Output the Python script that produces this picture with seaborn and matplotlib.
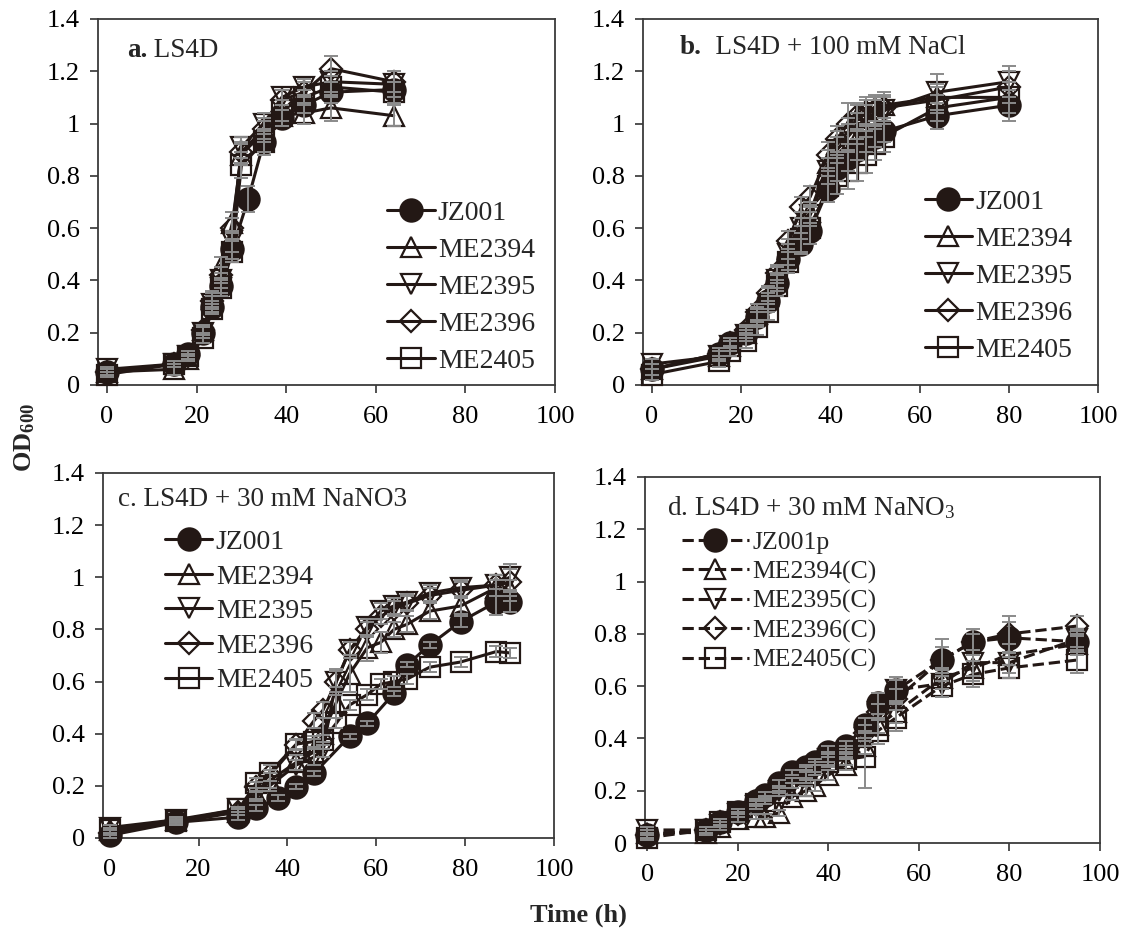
import numpy as np
import pandas as pd
import matplotlib
matplotlib.use("Agg")
import matplotlib.pyplot as plt
import seaborn as sns

nan = np.nan

STRAINS = ["JZ001", "ME2394", "ME2395", "ME2396", "ME2405"]
STRAINS_D = ["JZ001p", "ME2394(C)", "ME2395(C)", "ME2396(C)", "ME2405(C)"]

# panel a: LS4D
T_A = [0, 15, 18, 21.5, 23.5, 25.5, 28, 30, 31.5, 35, 39, 44, 50, 64]
A_JZ001 = [0.05, 0.08, 0.12, 0.20, 0.30, 0.38, 0.52, nan, 0.71, 0.93, 1.02, 1.07, 1.12, 1.13]
A_ME2394 = [0.05, 0.06, 0.10, 0.21, 0.33, 0.45, 0.62, 0.88, nan, 0.97, 1.03, 1.04, 1.06, 1.03]
A_ME2395 = [0.06, 0.08, 0.11, 0.20, 0.31, 0.40, 0.55, 0.91, nan, 1.00, 1.10, 1.14, 1.16, 1.15]
A_ME2396 = [0.05, 0.08, 0.11, 0.21, 0.32, 0.42, 0.60, 0.89, nan, 0.98, 1.09, 1.12, 1.21, 1.16]
A_ME2405 = [0.04, 0.08, 0.11, 0.18, 0.29, 0.37, 0.51, 0.84, nan, 0.93, 1.05, 1.10, 1.14, 1.12]
A_JZ001_E = [0.01, 0.01, 0.01, 0.02, 0.02, 0.03, 0.04, nan, 0.05, 0.04, 0.03, 0.03, 0.04, 0.03]
A_ME2394_E = [0.01, 0.02, 0.01, 0.02, 0.03, 0.04, 0.04, 0.04, nan, 0.04, 0.04, 0.04, 0.05, 0.04]
A_ME2395_E = [0.01, 0.01, 0.01, 0.02, 0.03, 0.03, 0.04, 0.04, nan, 0.04, 0.03, 0.03, 0.04, 0.05]
A_ME2396_E = [0.01, 0.01, 0.01, 0.02, 0.03, 0.03, 0.04, 0.04, nan, 0.04, 0.04, 0.04, 0.05, 0.04]
A_ME2405_E = [0.01, 0.01, 0.01, 0.02, 0.02, 0.03, 0.04, 0.05, nan, 0.05, 0.04, 0.03, 0.04, 0.04]

# panel b: LS4D + 100 mM NaCl
T_B = [0, 15, 17.5, 21, 23.5, 26, 28, 30.5, 33.5, 35.5, 39.5, 41.5, 44, 46, 48, 50, 52, 64, 80]
B_JZ001 = [0.06, 0.12, 0.16, 0.20, 0.26, 0.32, 0.39, 0.48, 0.54, 0.59, 0.75, 0.83, 0.87, 0.90, 0.93, 0.95, 0.97, 1.03, 1.07]
B_ME2394 = [0.06, 0.11, 0.15, 0.20, 0.27, 0.34, 0.42, 0.52, 0.62, 0.66, 0.85, 0.92, 0.97, 1.02, 1.05, 1.06, 1.07, 1.10, 1.10]
B_ME2395 = [0.08, 0.11, 0.15, 0.19, 0.25, 0.31, 0.40, 0.50, 0.60, 0.65, 0.82, 0.90, 0.95, 0.99, 1.02, 1.04, 1.05, 1.12, 1.16]
B_ME2396 = [0.06, 0.12, 0.16, 0.21, 0.28, 0.35, 0.43, 0.55, 0.68, 0.72, 0.88, 0.94, 1.00, 1.03, 1.04, 1.05, 1.06, 1.09, 1.14]
B_ME2405 = [0.04, 0.09, 0.13, 0.17, 0.22, 0.28, 0.38, 0.47, 0.56, 0.60, 0.76, 0.80, 0.82, 0.85, 0.88, 0.92, 0.95, 1.06, 1.10]
B_JZ001_E = [0.02, 0.02, 0.02, 0.02, 0.03, 0.03, 0.03, 0.04, 0.04, 0.05, 0.05, 0.05, 0.05, 0.04, 0.04, 0.04, 0.04, 0.05, 0.06]
B_ME2394_E = [0.02, 0.02, 0.02, 0.02, 0.03, 0.03, 0.03, 0.04, 0.04, 0.04, 0.05, 0.05, 0.05, 0.05, 0.05, 0.05, 0.05, 0.05, 0.06]
B_ME2395_E = [0.02, 0.02, 0.02, 0.02, 0.03, 0.03, 0.03, 0.04, 0.04, 0.04, 0.05, 0.05, 0.05, 0.05, 0.05, 0.05, 0.05, 0.07, 0.06]
B_ME2396_E = [0.02, 0.02, 0.02, 0.02, 0.03, 0.03, 0.03, 0.04, 0.04, 0.04, 0.05, 0.05, 0.08, 0.05, 0.05, 0.05, 0.05, 0.05, 0.06]
B_ME2405_E = [0.02, 0.02, 0.02, 0.03, 0.03, 0.03, 0.04, 0.04, 0.05, 0.06, 0.06, 0.07, 0.07, 0.07, 0.07, 0.06, 0.06, 0.05, 0.06]

# panel c: LS4D + 30 mM NaNO3
T_C = [0, 15, 29, 33, 36, 38, 42, 46, 48, 51, 54, 58, 61, 64, 67, 72, 79, 87, 90]
C_JZ001 = [0.01, 0.06, 0.08, 0.115, nan, 0.153, 0.197, 0.248, nan, nan, 0.39, 0.44, nan, 0.555, 0.665, 0.74, 0.83, 0.905, 0.905]
C_ME2394 = [0.03, 0.07, 0.10, 0.17, 0.22, nan, 0.29, 0.33, 0.40, 0.52, 0.63, 0.73, 0.75, 0.80, 0.82, 0.87, 0.89, 0.96, 0.95]
C_ME2395 = [0.04, 0.07, 0.11, 0.16, 0.20, nan, 0.28, 0.31, 0.34, 0.60, 0.72, 0.81, 0.87, 0.89, 0.905, 0.94, 0.96, 0.97, 1.00]
C_ME2396 = [0.02, 0.06, 0.10, 0.195, 0.24, nan, 0.357, 0.45, 0.49, 0.60, 0.72, 0.80, 0.85, 0.88, 0.90, 0.93, 0.95, 0.97, 0.98]
C_ME2405 = [0.03, 0.065, 0.11, 0.21, 0.25, nan, 0.36, 0.37, 0.375, 0.44, 0.51, 0.55, 0.59, 0.60, 0.61, 0.655, 0.675, 0.715, 0.71]
C_JZ001_E = [0.01, 0.01, 0.01, 0.01, nan, 0.01, 0.01, 0.01, nan, nan, 0.01, 0.01, nan, 0.01, 0.01, 0.01, 0.02, 0.05, 0.04]
C_ME2394_E = [0.01, 0.01, 0.01, 0.02, 0.03, nan, 0.03, 0.05, 0.06, 0.06, 0.07, 0.05, 0.04, 0.03, 0.03, 0.03, 0.03, 0.03, 0.04]
C_ME2395_E = [0.01, 0.01, 0.01, 0.02, 0.02, nan, 0.02, 0.03, 0.03, 0.05, 0.03, 0.03, 0.03, 0.03, 0.03, 0.03, 0.03, 0.04, 0.05]
C_ME2396_E = [0.01, 0.01, 0.01, 0.02, 0.02, nan, 0.02, 0.03, 0.03, 0.04, 0.03, 0.03, 0.03, 0.03, 0.03, 0.03, 0.03, 0.04, 0.05]
C_ME2405_E = [0.01, 0.01, 0.01, 0.02, 0.03, nan, 0.02, 0.02, 0.02, 0.02, 0.02, 0.02, 0.02, 0.02, 0.02, 0.02, 0.02, 0.02, 0.02]

# panel d: LS4D + 30 mM NaNO3, complemented strains
T_D = [0, 13, 16, 20, 24, 26, 29, 32, 35, 37, 40, 44, 48, 51, 55, 65, 72, 80, 95]
D_JZ001p = [0.03, 0.05, 0.08, 0.12, 0.16, 0.185, 0.23, 0.27, 0.29, 0.31, 0.35, 0.37, 0.45, 0.535, 0.585, 0.70, 0.77, 0.785, 0.77]
D_ME2394 = [0.04, 0.04, 0.06, 0.09, 0.10, 0.10, 0.115, 0.175, 0.20, 0.22, 0.26, 0.30, 0.37, 0.45, 0.50, 0.63, 0.67, 0.72, 0.76]
D_ME2395 = [0.05, 0.05, 0.07, 0.11, 0.14, 0.16, 0.20, 0.22, 0.25, 0.28, 0.32, 0.34, 0.40, 0.50, 0.585, 0.61, 0.69, 0.69, 0.78]
D_ME2396 = [0.03, 0.05, 0.08, 0.11, 0.15, 0.17, 0.21, 0.24, 0.27, 0.29, 0.33, 0.35, 0.42, 0.50, 0.55, 0.70, 0.77, 0.80, 0.83]
D_ME2405 = [0.02, 0.05, 0.08, 0.12, 0.15, 0.16, 0.19, 0.22, 0.26, 0.28, 0.31, 0.32, 0.33, 0.43, 0.48, 0.60, 0.645, 0.67, 0.70]
D_JZ001p_E = [0.01, 0.01, 0.01, 0.01, 0.01, 0.01, 0.01, 0.01, 0.01, 0.01, 0.02, 0.02, 0.03, 0.04, 0.05, 0.08, 0.03, 0.06, 0.04]
D_ME2394_E = [0.01, 0.01, 0.01, 0.01, 0.01, 0.01, 0.01, 0.01, 0.02, 0.02, 0.02, 0.02, 0.03, 0.03, 0.04, 0.04, 0.05, 0.04, 0.04]
D_ME2395_E = [0.01, 0.01, 0.01, 0.01, 0.01, 0.01, 0.01, 0.01, 0.02, 0.02, 0.02, 0.02, 0.03, 0.03, 0.04, 0.05, 0.05, 0.04, 0.04]
D_ME2396_E = [0.01, 0.01, 0.01, 0.01, 0.01, 0.01, 0.01, 0.01, 0.02, 0.02, 0.02, 0.02, 0.03, 0.03, 0.04, 0.05, 0.05, 0.07, 0.04]
D_ME2405_E = [0.01, 0.01, 0.01, 0.01, 0.01, 0.01, 0.01, 0.01, 0.02, 0.02, 0.02, 0.02, 0.12, 0.05, 0.05, 0.04, 0.05, 0.04, 0.05]

INK = "#231815"
ERR = "#8a8a8a"
MARKERS = ["o", "^", "v", "D", "s"]
SIZES = [16, 14, 14, 11, 14]
FACES = [INK, "none", "none", "none", "none"]

sns.set_theme(style="ticks")
plt.rcParams["font.family"] = ["Liberation Serif", "DejaVu Serif"]
plt.rcParams["mathtext.fontset"] = "custom"
plt.rcParams["mathtext.rm"] = "Liberation Serif"
plt.rcParams["mathtext.it"] = "Liberation Serif:italic"
plt.rcParams["mathtext.bf"] = "Liberation Serif:bold"


def draw_panel(ax, t, series, errs, labels, ls, xmin):
    # JZ001 last so the filled circles sit on top
    order = [1, 2, 3, 4, 0]
    for i in order:
        df = pd.DataFrame({"t": t, "od": series[i], "err": errs[i]}).dropna()
        sns.lineplot(data=df, x="t", y="od", ax=ax, color=INK, lw=2.2,
                     linestyle=ls, marker=MARKERS[i], markersize=SIZES[i],
                     markerfacecolor=FACES[i], markeredgecolor=INK,
                     markeredgewidth=1.6, label=labels[i], clip_on=False,
                     zorder=3, estimator=None)
        ax.errorbar(df["t"], df["od"], yerr=df["err"], fmt="none", ecolor=ERR,
                    elinewidth=1.4, capsize=5, capthick=1.4, zorder=4, clip_on=False)
    ax.set_xlim(xmin, 100)
    ax.set_ylim(0, 1.4)
    ax.set_xticks([0, 20, 40, 60, 80, 100])
    ax.set_yticks([0, 0.2, 0.4, 0.6, 0.8, 1.0, 1.2, 1.4])
    ax.set_yticklabels([f"{v:g}" for v in [0, 0.2, 0.4, 0.6, 0.8, 1.0, 1.2, 1.4]])
    ax.set_xlabel("")
    ax.set_ylabel("")
    ax.tick_params(labelsize=19, direction="out", length=6, width=1.2, colors="#333333",
                   labelcolor="black")
    ax.tick_params(axis="x", pad=9)
    ax.tick_params(axis="y", pad=7)
    for sp in ax.spines.values():
        sp.set_visible(True)
        sp.set_color("#3a3a3a")
        sp.set_linewidth(1.3)
    handles, labs = ax.get_legend_handles_labels()
    hd = dict(zip(labs, handles))
    return [hd[l] for l in labels]


fig = plt.figure(figsize=(11.29, 9.34), dpi=100)
ax_a = fig.add_axes([0.0868, 0.5878, 0.4048, 0.3919])
ax_b = fig.add_axes([0.5695, 0.5878, 0.4030, 0.3919])
ax_c = fig.add_axes([0.0912, 0.1028, 0.3995, 0.3908])
ax_d = fig.add_axes([0.5713, 0.0974, 0.4030, 0.3919])

h = draw_panel(ax_a, T_A, [A_JZ001, A_ME2394, A_ME2395, A_ME2396, A_ME2405],
               [A_JZ001_E, A_ME2394_E, A_ME2395_E, A_ME2396_E, A_ME2405_E], STRAINS, "-", -2)
ax_a.legend(h, STRAINS, loc="upper left", bbox_to_anchor=(0.633, 0.505), frameon=False,
            fontsize=20, borderpad=0, borderaxespad=0, handlelength=1.7,
            handletextpad=0.12, labelspacing=0.42)

h = draw_panel(ax_b, T_B, [B_JZ001, B_ME2394, B_ME2395, B_ME2396, B_ME2405],
               [B_JZ001_E, B_ME2394_E, B_ME2395_E, B_ME2396_E, B_ME2405_E], STRAINS, "-", -2)
ax_b.legend(h, STRAINS, loc="upper left", bbox_to_anchor=(0.619, 0.535), frameon=False,
            fontsize=20, borderpad=0, borderaxespad=0, handlelength=1.7,
            handletextpad=0.12, labelspacing=0.42)

h = draw_panel(ax_c, T_C, [C_JZ001, C_ME2394, C_ME2395, C_ME2396, C_ME2405],
               [C_JZ001_E, C_ME2394_E, C_ME2395_E, C_ME2396_E, C_ME2405_E], STRAINS, "-", -1.5)
ax_c.legend(h, STRAINS, loc="upper left", bbox_to_anchor=(0.138, 0.845), frameon=False,
            fontsize=20, borderpad=0, borderaxespad=0, handlelength=1.7,
            handletextpad=0.12, labelspacing=0.33)

h = draw_panel(ax_d, T_D, [D_JZ001p, D_ME2394, D_ME2395, D_ME2396, D_ME2405],
               [D_JZ001p_E, D_ME2394_E, D_ME2395_E, D_ME2396_E, D_ME2405_E], STRAINS_D, "--", -0.5)
ax_d.legend(h, STRAINS_D, loc="upper left", bbox_to_anchor=(0.081, 0.852), frameon=False,
            fontsize=18.5, borderpad=0, borderaxespad=0, handlelength=2.6,
            handletextpad=0.15, labelspacing=0.24)

# panel titles (bold letter for a and b)
t1 = ax_a.text(0.063, 0.915, "a.", transform=ax_a.transAxes, fontsize=19.5,
               fontweight="bold", va="center", ha="left")
ax_a.annotate(" LS4D", xy=(1, 0), xycoords=t1, va="bottom", ha="left", fontsize=19.5)
t2 = ax_b.text(0.081, 0.923, "b.", transform=ax_b.transAxes, fontsize=19.5,
               fontweight="bold", va="center", ha="left")
ax_b.annotate("  LS4D + 100 mM NaCl", xy=(1, 0), xycoords=t2, va="bottom", ha="left",
              fontsize=19.5)
ax_c.text(0.033, 0.926, "c. LS4D + 30 mM NaNO3", transform=ax_c.transAxes,
          fontsize=19.5, va="center", ha="left")
ax_d.text(0.048, 0.915, r"d. LS4D + 30 mM NaNO$_3$", transform=ax_d.transAxes,
          fontsize=19.5, va="center", ha="left")

fig.text(0.022, 0.532, r"$\mathbf{OD_{600}}$", rotation=90, fontsize=19,
         ha="center", va="center")
fig.text(0.512, 0.02, "Time (h)", fontsize=19, fontweight="bold",
         ha="center", va="center")

fig.savefig("out.png", dpi=100)
